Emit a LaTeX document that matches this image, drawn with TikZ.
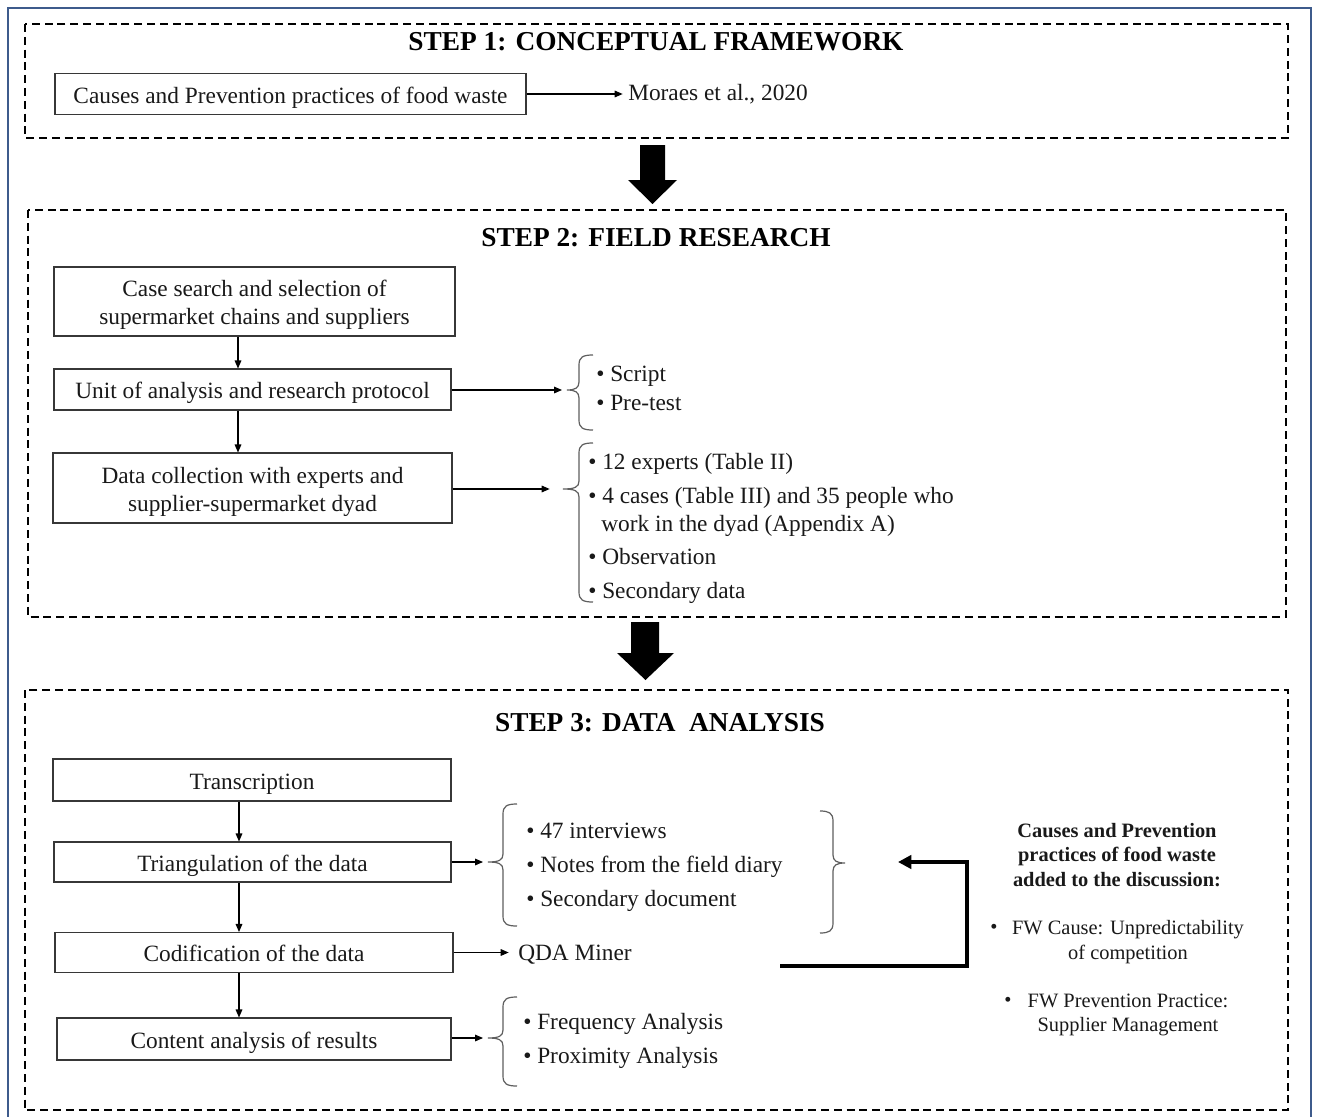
\documentclass[tikz,border=0pt]{standalone}
\usepackage{fontspec}
\setmainfont{Liberation Serif}
\usetikzlibrary{arrows.meta}
\definecolor{outerblue}{RGB}{62,91,140}
\definecolor{boxgray}{RGB}{55,55,55}
\definecolor{brcgray}{RGB}{95,95,95}
\definecolor{txt}{RGB}{25,25,25}
\newcommand{\mainf}{\fontsize{17.5}{21}\selectfont}
\newcommand{\titlef}{\fontsize{20.5}{24}\selectfont\bfseries}
\newcommand{\sidef}{\fontsize{15.3}{18.4}\selectfont}
\newcommand{\lowr}[1]{\raisebox{-2.6pt}[\height][\depth]{\begin{tabular}{@{}c@{}}#1\end{tabular}}}
\newcommand{\mylbrace}[5]{%
  \draw[brc] (#1+14,#3) .. controls (#1+4,#3) and (#1,#3+2) .. (#1,#3+10) -- (#1,#4-8)
    .. controls (#1,#4-2) and (#1-4,#4) .. (#2,#4)
    .. controls (#1-4,#4) and (#1,#4+2) .. (#1,#4+8) -- (#1,#5-10)
    .. controls (#1,#5-2) and (#1+4,#5) .. (#1+14,#5);}
\newcommand{\myrbrace}[5]{%
  \draw[brc] (#1-13,#3) .. controls (#1-4,#3) and (#1,#3+2) .. (#1,#3+10) -- (#1,#4-8)
    .. controls (#1,#4-2) and (#1+4,#4) .. (#2,#4)
    .. controls (#1+4,#4) and (#1,#4+2) .. (#1,#4+8) -- (#1,#5-10)
    .. controls (#1,#5-2) and (#1-4,#5) .. (#1-13,#5);}
\begin{document}
\begin{tikzpicture}[x=0.75pt,y=-0.75pt,
  box/.style={draw=boxgray, line width=0.8pt, inner sep=0pt, align=center, font=\mainf, text=txt},
  sz/.style 2 args={minimum width=#1*0.75pt, minimum height=#2*0.75pt},
  stepframe/.style={draw=black, line width=1.5pt, dash pattern=on 6pt off 3.6pt},
  ttl/.style={font=\titlef, text=black, inner sep=0pt},
  itm/.style={anchor=west, inner sep=0pt, font=\mainf, text=txt, text height=0.68em, text depth=0.2em, yshift=-2.8pt},
  arr/.style={-{Triangle[length=6pt,width=5pt]}, line width=0.8pt, draw=black},
  brc/.style={draw=brcgray, line width=0.9pt},
  sidetxt/.style={font=\sidef, text=txt, inner sep=0pt, align=center},
  blockarrow/.style={fill=black},
  thickarr/.style={-{Triangle[length=10pt,width=10pt]}, line width=2.6pt, draw=black}
]
\useasboundingbox (0,0) rectangle (1318,1117);
\fill[white] (0,0) rectangle (1318,1117);
% outer border
\draw[outerblue, line width=1.8pt] (8,1117) -- (8,8) -- (1311,8) -- (1311,1117);

% ---------------- STEP 1 ----------------
\draw[stepframe] (25,24) rectangle (1288,138);
\node[ttl] (t1) at (656,42) {STEP 1: CONCEPTUAL FRAMEWORK};
\node[box, sz={471}{41}] (c1) at (290.5,94) {\lowr{Causes and Prevention practices of food waste}};
\node[itm] (moraes) at (628,94) {Moraes et al., 2020};
\draw[arr, shorten >=4pt] (c1.east) -- (c1.east -| moraes.west);

% big arrow 1
\fill[blockarrow] (640,145) -- (665,145) -- (665,180) -- (677,180) -- (652.5,204) -- (628,180) -- (640,180) -- cycle;

% ---------------- STEP 2 ----------------
\draw[stepframe] (28,210) rectangle (1286,617);
\node[ttl] (t2) at (656,238) {STEP 2: FIELD RESEARCH};
\node[box, sz={401}{69}] (a) at (254.5,301.5) {\lowr{Case search and selection of\\supermarket chains and suppliers}};
\node[box, sz={397}{41}] (b) at (252.5,389.5) {\lowr{Unit of analysis and research protocol}};
\node[box, sz={399}{70}] (c) at (252.5,488) {\lowr{Data collection with experts and\\supplier-supermarket dyad}};
\coordinate (ax) at (238,0);
\draw[arr] (a.south -| ax) -- (b.north -| ax);
\draw[arr] (b.south -| ax) -- (c.north -| ax);

\coordinate (tip1) at (567,390);
\coordinate (tip2) at (563,489);
\draw[arr, shorten >=3.75pt] (b.east |- tip1) -- (tip1);
\draw[arr, shorten >=10pt] (c.east |- tip2) -- (tip2);
\mylbrace{579}{567}{355}{390}{430}
\mylbrace{579}{563}{443}{489}{602}

\node[itm] (s1) at (596,375) {\textbullet\ Script};
\node[itm] (s2) at (596,404) {\textbullet\ Pre-test};
\node[itm] (d1) at (588,463) {\textbullet\ 12 experts (Table II)};
\node[itm] (d2) at (588,497) {\textbullet\ 4 cases (Table III) and 35 people who};
\node[itm] (d2b) at (601,525) {work in the dyad (Appendix A)};
\node[itm] (d3) at (588,558) {\textbullet\ Observation};
\node[itm] (d4) at (588,592) {\textbullet\ Secondary data};

% big arrow 2
\fill[blockarrow] (631,622) -- (659,622) -- (659,653) -- (674,653) -- (645.5,680) -- (617,653) -- (631,653) -- cycle;

% ---------------- STEP 3 ----------------
\draw[stepframe] (25,690) rectangle (1288,1110);
\node[ttl] (t3) at (660,723) {STEP 3: DATA\ \ ANALYSIS};
\node[box, sz={398}{42}] (p1) at (252,780) {\lowr{Transcription}};
\node[box, sz={397}{40}] (p2) at (252.5,862) {\lowr{Triangulation of the data}};
\node[box, sz={398}{40}] (p3) at (254,952.5) {\lowr{Codification of the data}};
\node[box, sz={394}{42}] (p4) at (254,1039) {\lowr{Content analysis of results}};
\coordinate (bx) at (239,0);
\draw[arr] (p1.south -| bx) -- (p2.north -| bx);
\draw[arr] (p2.south -| bx) -- (p3.north -| bx);
\draw[arr] (p3.south -| bx) -- (p4.north -| bx);

\coordinate (tip3) at (488,862);
\coordinate (tip4) at (488,1038);
\draw[arr, shorten >=3.75pt] (p2.east |- tip3) -- (tip3);
\draw[arr, shorten >=3.75pt] (p4.east |- tip4) -- (tip4);
\mylbrace{503}{488}{804}{862}{926}
\mylbrace{503}{488}{997}{1038}{1086}
\myrbrace{833}{845}{811}{863}{933}

\node[itm] (e1) at (526,832) {\textbullet\ 47 interviews};
\node[itm] (e2) at (526,866) {\textbullet\ Notes from the field diary};
\node[itm] (e3) at (526,900) {\textbullet\ Secondary document};
\node[itm] (qda) at (518,954) {QDA Miner};
\draw[arr, shorten >=7pt] (p3.east) -- (p3.east -| qda.west);
\node[itm] (f1) at (523,1023) {\textbullet\ Frequency Analysis};
\node[itm] (f2) at (523,1057) {\textbullet\ Proximity Analysis};

% feedback arrow
\coordinate (fbstart) at (780,966);
\coordinate (fbend) at (898,862);
\draw[thickarr] (fbstart) -- (967,966) -- (967,862) -- (fbend);

% right-hand text
\node[sidetxt, font=\sidef\bfseries] (disc) at (1117,855) {Causes and Prevention\\practices of food waste\\added to the discussion:};
\node[sidetxt] (r1b) at (994,929) {\textbullet};
\node[sidetxt] (r1) at (1128,942) {FW Cause: Unpredictability\\of competition};
\node[sidetxt] (r2b) at (1008,1002) {\textbullet};
\node[sidetxt] (r2) at (1128,1015) {FW Prevention Practice:\\Supplier Management};
\end{tikzpicture}
\end{document}
